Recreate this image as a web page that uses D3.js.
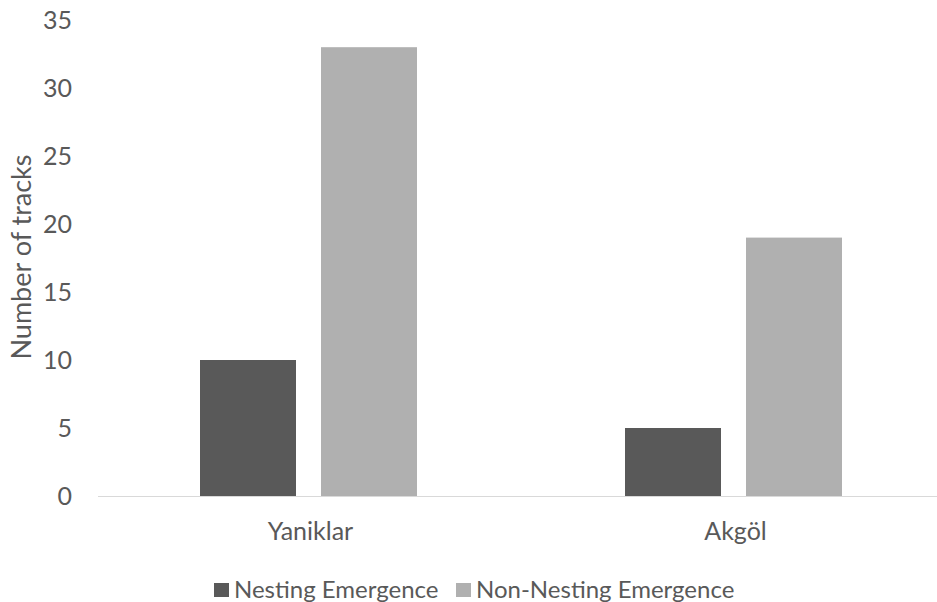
<!DOCTYPE html>
<html>
<head>
<meta charset="utf-8">
<script src="https://cdn.jsdelivr.net/npm/d3@7"></script>
<style>
  html, body { margin: 0; padding: 0; background: #ffffff; }
  svg text { font-family: Lato, "Open Sans", sans-serif; fill: #595959; }
</style>
</head>
<body>
<svg id="chart" width="937" height="602"></svg>
<script>
// Track counts per site
const sites = ["Yaniklar", "Akgöl"];
const seriesNames = ["Nesting Emergence", "Non-Nesting Emergence"];
const nesting = [10, 5];
const nonNesting = [33, 19];
const yTicks = [0, 5, 10, 15, 20, 25, 30, 35];
const seriesColors = ["#595959", "#b0b0b0"];

const svg = d3.select("#chart");
const W = 937, H = 602;
const plotLeft = 98, plotRight = 948, plotTop = 20, plotBottom = 496;

const x = d3.scaleBand().domain(sites).range([plotLeft, plotRight]);
const y = d3.scaleLinear().domain([0, 35]).range([plotBottom, plotTop]);
// bars inside each site band: two bars with a narrow gap, centred
const inner = d3.scaleBand().domain(seriesNames)
  .range([102, 102 + 217]).paddingInner(25 / 121).paddingOuter(0);

const values = [nesting, nonNesting];

// baseline
svg.append("line")
  .attr("x1", plotLeft).attr("x2", W)
  .attr("y1", y(0) + 0.5).attr("y2", y(0) + 0.5)
  .attr("stroke", "#d9d9d9").attr("stroke-width", 1);

// y tick labels
svg.append("g").selectAll("text").data(yTicks).join("text")
  .attr("x", 72).attr("y", d => y(d))
  .attr("dy", "0.35em").attr("text-anchor", "end")
  .attr("font-size", 25)
  .text(d => d);

// bars
seriesNames.forEach((s, si) => {
  svg.append("g").selectAll("rect").data(sites).join("rect")
    .attr("x", d => x(d) + inner(s))
    .attr("width", inner.bandwidth())
    .attr("y", (d, i) => y(values[si][i]))
    .attr("height", (d, i) => y(0) - y(values[si][i]))
    .attr("fill", seriesColors[si]);
});

// category labels
svg.append("g").selectAll("text").data(sites).join("text")
  .attr("x", d => x(d) + x.bandwidth() / 2)
  .attr("y", 531).attr("dy", "0.35em")
  .attr("text-anchor", "middle").attr("font-size", 25)
  .text(d => d);

// y axis title
svg.append("text")
  .attr("transform", "translate(22,257) rotate(-90)")
  .attr("dy", "0.35em").attr("text-anchor", "middle")
  .attr("font-size", 27)
  .text("Number of tracks");

// legend
const legendX = [214, 456];
const lg = svg.append("g").selectAll("g").data(seriesNames).join("g")
  .attr("transform", (d, i) => `translate(${legendX[i]},590)`);
lg.append("rect").attr("x", 0).attr("y", -7).attr("width", 15).attr("height", 14)
  .attr("fill", (d, i) => seriesColors[i]);
lg.append("text").attr("x", 20).attr("dy", "0.35em").attr("font-size", 24).text(d => d);
</script>
</body>
</html>
